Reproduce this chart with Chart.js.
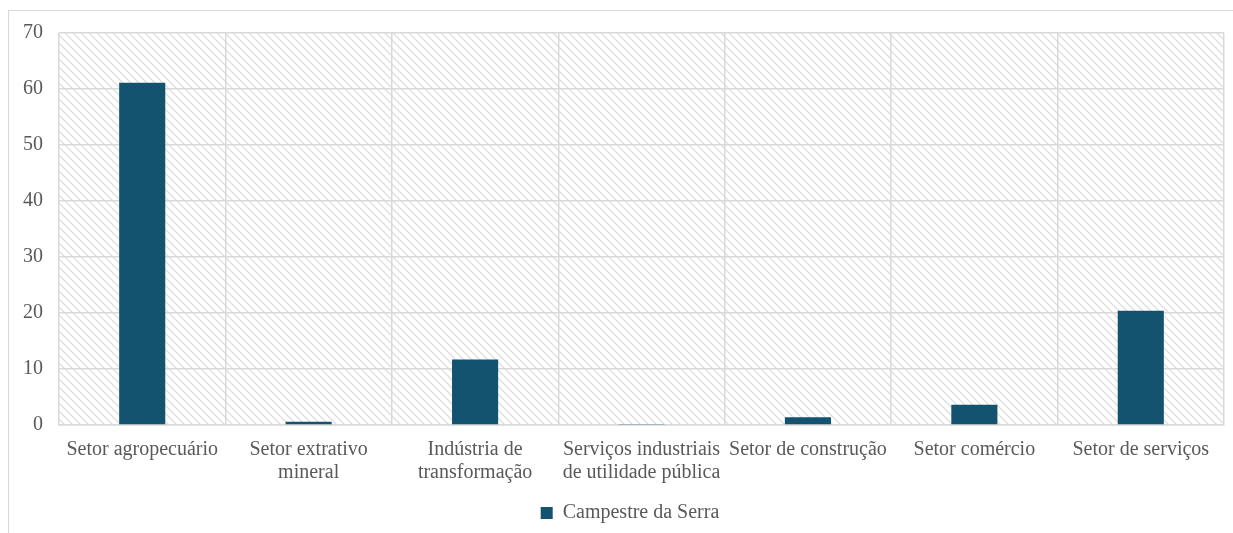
<!DOCTYPE html>
<html>
<head>
<meta charset="utf-8">
<script src="https://cdn.jsdelivr.net/npm/chart.js@4/dist/chart.umd.min.js"></script>
<style>
  html, body { margin: 0; padding: 0; background: #fff; overflow: hidden; }
  #frame { position: absolute; left: 8px; top: 10px; width: 1240px; height: 540px; border: 1px solid #d9d9d9; }
  #wrap { position: absolute; left: 0; top: 0; width: 1233px; height: 533px; }
</style>
</head>
<body>
<div id="frame"></div>
<div id="wrap"><canvas id="chart"></canvas></div>
<script>
// dados
const setores = [
  "Setor agropecuário",
  ["Setor extrativo", "mineral"],
  ["Indústria de", "transformação"],
  ["Serviços industriais", "de utilidade pública"],
  "Setor de construção",
  "Setor comércio",
  "Setor de serviços"
];
const campestre = [61.1, 0.6, 11.7, 0.2, 1.4, 3.6, 20.4];
const yTicks = [0, 10, 20, 30, 40, 50, 60, 70];

const FONT = "'Liberation Serif', 'Times New Roman', serif";
const TXT = "#595959";

// fundo hachurado da area do grafico
function makeHatch() {
  const c = document.createElement("canvas");
  c.width = 8; c.height = 8;
  const g = c.getContext("2d");
  g.fillStyle = "#fff";
  g.fillRect(0, 0, 8, 8);
  g.strokeStyle = "#dedede";
  g.lineWidth = 1.3;
  g.beginPath();
  g.moveTo(-2, -2); g.lineTo(10, 10);
  g.moveTo(-2, 6); g.lineTo(2, 10);
  g.moveTo(6, -2); g.lineTo(10, 2);
  g.stroke();
  return c;
}

const hatchBg = {
  id: "hatchBg",
  beforeDraw(chart) {
    const { ctx, chartArea: a } = chart;
    ctx.save();
    ctx.fillStyle = ctx.createPattern(makeHatch(), "repeat");
    ctx.fillRect(a.left, a.top, a.right - a.left, a.bottom - a.top);
    ctx.restore();
  }
};

// legenda um pouco deslocada para a direita, como no original
const legendShift = {
  id: "legendShift",
  afterLayout(chart) {
    if (chart.legend) {
      chart.legend.left += 14;
      chart.legend.right += 14;
    }
  }
};

new Chart(document.getElementById("chart"), {
  type: "bar",
  data: {
    labels: setores,
    datasets: [{
      label: "Campestre da Serra",
      data: campestre,
      backgroundColor: "#135370",
      borderWidth: 0,
      barPercentage: 0.277,
      categoryPercentage: 1
    }]
  },
  plugins: [hatchBg, legendShift],
  options: {
    responsive: true,
    maintainAspectRatio: false,
    animation: false,
    layout: { padding: { left: 8, right: 9, top: 33, bottom: 0 } },
    plugins: {
      tooltip: { enabled: false },
      legend: {
        position: "bottom",
        labels: {
          font: { family: FONT, size: 20 },
          color: TXT,
          boxWidth: 12,
          boxHeight: 12,
          padding: 8
        }
      }
    },
    scales: {
      x: {
        afterFit(axis) { axis.height = 70; },
        grid: { color: "#d9d9d9", lineWidth: 1.5, offset: true, drawTicks: false },
        border: { color: "#d9d9d9", width: 1.5 },
        ticks: {
          font: { family: FONT, size: 20, lineHeight: 1.15 },
          color: TXT,
          padding: 13,
          maxRotation: 0,
          autoSkip: false
        }
      },
      y: {
        min: 0,
        max: 70,
        afterBuildTicks(axis) { axis.ticks = yTicks.map(v => ({ value: v })); },
        afterFit(axis) { axis.width = 51; },
        grid: { color: "#d9d9d9", lineWidth: 1.5, drawTicks: false },
        border: { display: false },
        ticks: {
          font: { family: FONT, size: 20 },
          color: TXT,
          padding: 16
        }
      }
    }
  }
});
</script>
</body>
</html>
